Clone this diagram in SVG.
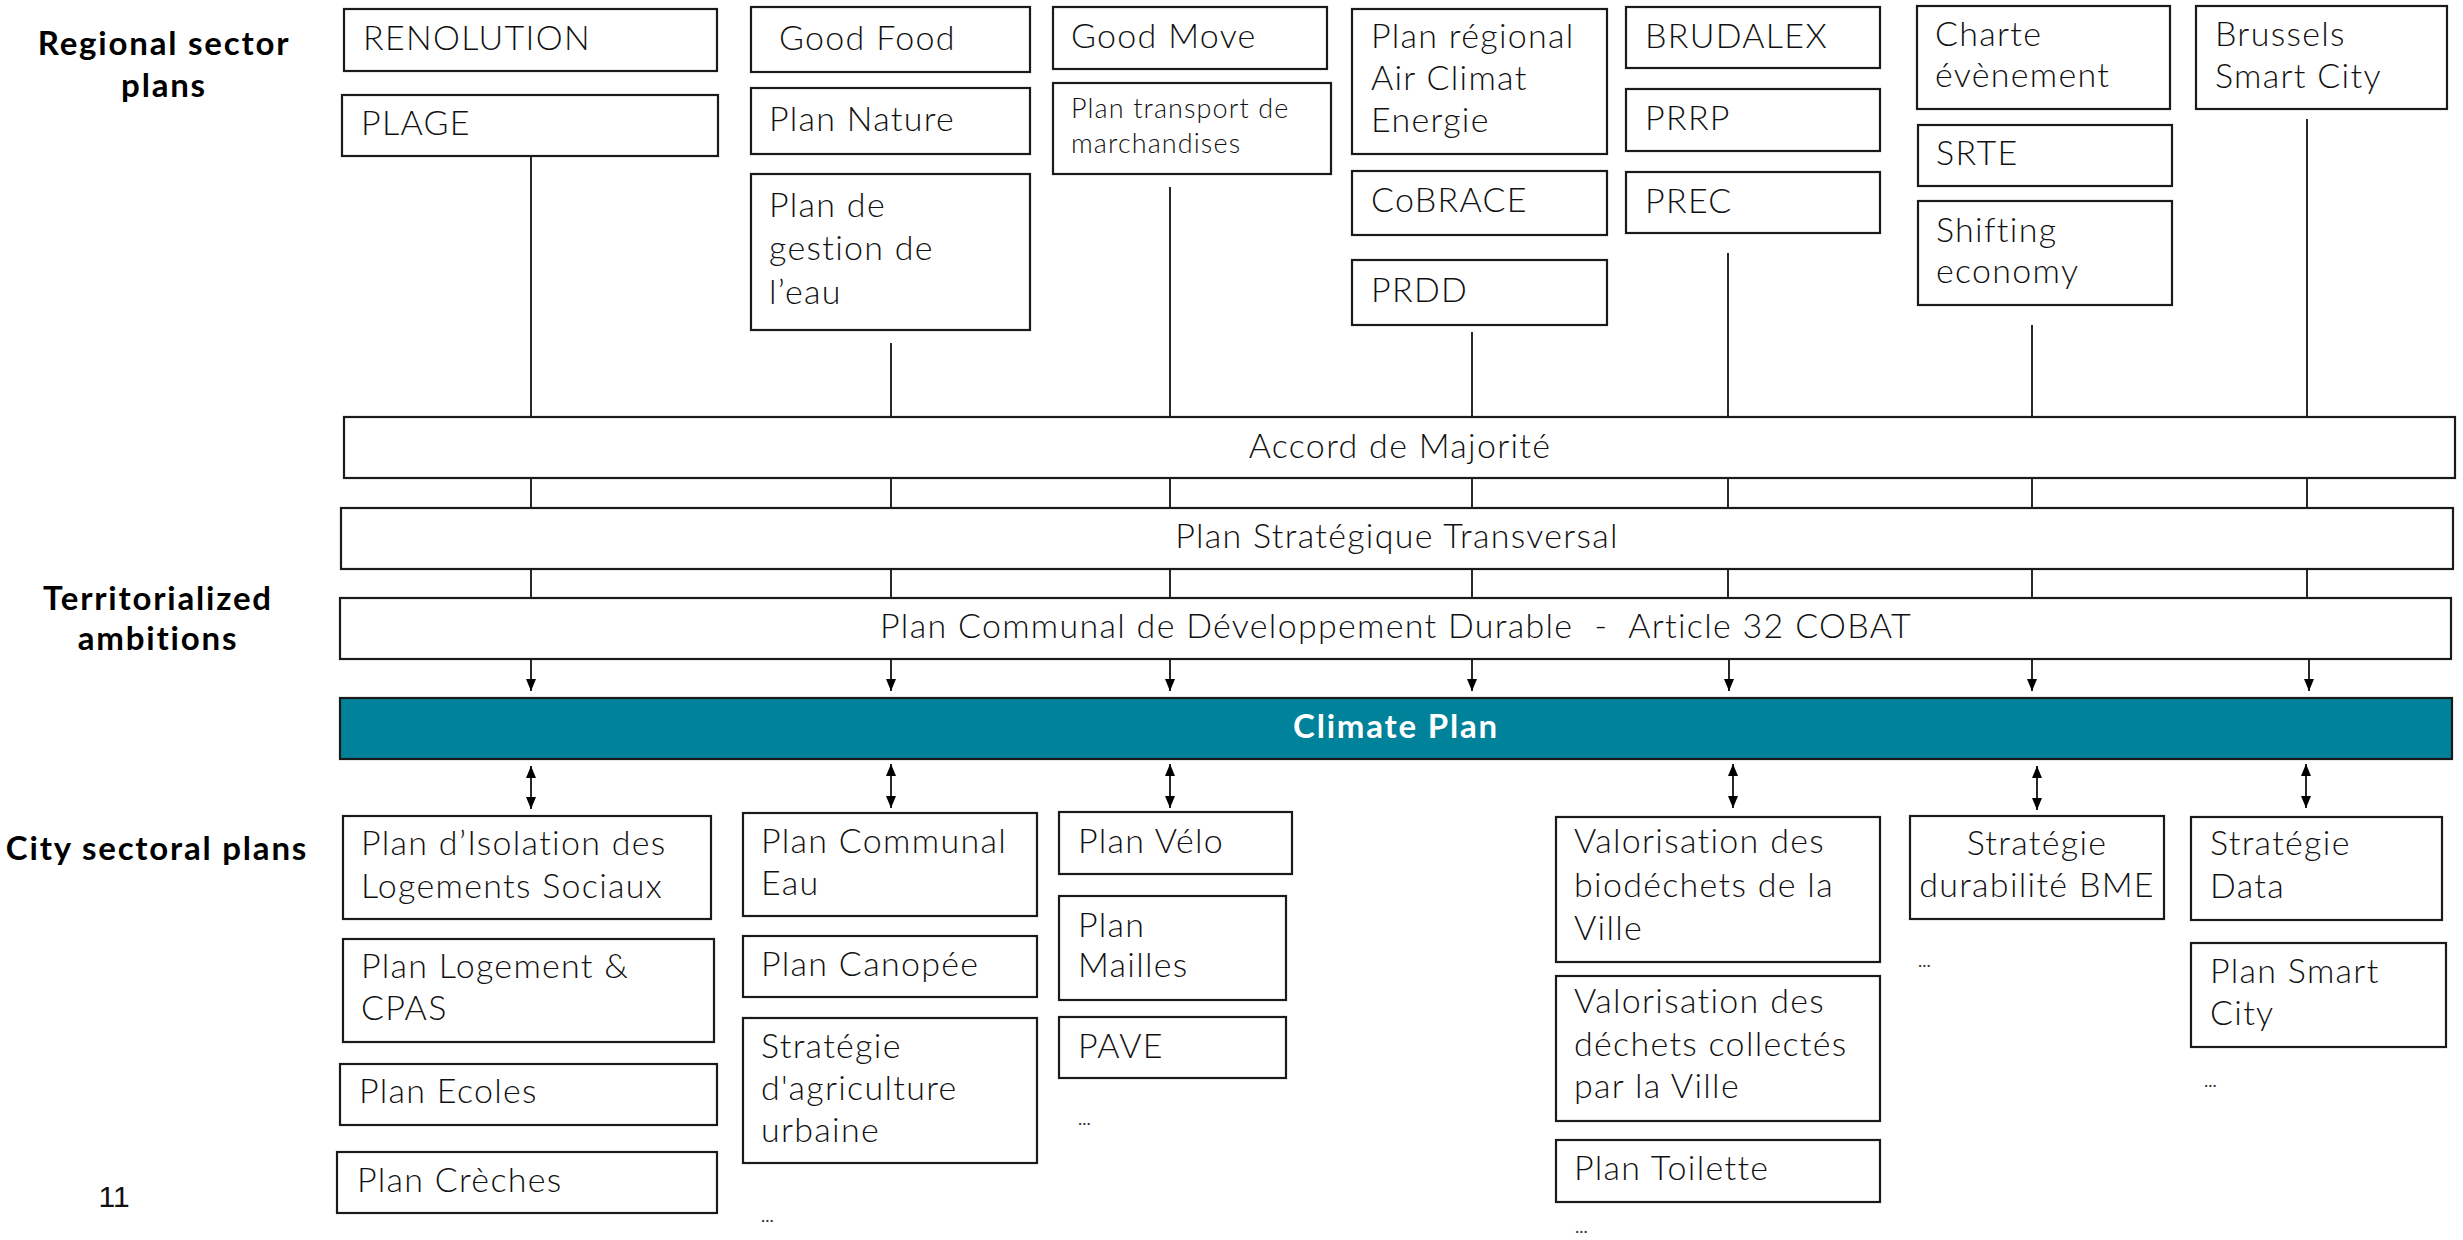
<svg xmlns="http://www.w3.org/2000/svg" width="2463" height="1240" viewBox="0 0 2463 1240">
<style>
.bx{fill:#fff;stroke:#1a1a1a;stroke-width:2.2}
.t{font-family:Lato,"Open Sans","Liberation Sans",sans-serif;font-weight:300;font-size:34px;letter-spacing:1.3px;fill:#111}
.ts{font-size:27px;letter-spacing:1.1px}
.lab{font-family:Lato,"Open Sans","Liberation Sans",sans-serif;font-weight:700;font-size:33px;letter-spacing:1.8px;fill:#000;text-anchor:middle}
.c{text-anchor:middle}
.dots{font-family:Lato,"Liberation Sans",sans-serif;font-size:18px;fill:#333}
.ln{stroke:#111;stroke-width:1.8;fill:none}
</style>
<defs>
<marker id="ah" viewBox="0 0 12 10" refX="12" refY="5" markerWidth="12" markerHeight="10" markerUnits="userSpaceOnUse" orient="auto-start-reverse"><path d="M0,0 L12,5 L0,10 z" fill="#000"/></marker>
</defs>
<rect width="2463" height="1240" fill="#fff"/>

<g id="labels">
<text class="lab" x="164" y="55">Regional sector</text>
<text class="lab" x="164" y="97">plans</text>
<text class="lab" x="158" y="610">Territorialized</text>
<text class="lab" x="158" y="650">ambitions</text>
<text class="lab" x="157" y="860">City sectoral plans</text>
<text x="114" y="1207" font-family="Liberation Sans, sans-serif" font-size="30" fill="#111" text-anchor="middle">11</text>
</g>

<g id="connectors">
<line class="ln" x1="531" y1="156" x2="531" y2="417"/>
<line class="ln" x1="891" y1="343" x2="891" y2="417"/>
<line class="ln" x1="1170" y1="187" x2="1170" y2="417"/>
<line class="ln" x1="1472" y1="332" x2="1472" y2="417"/>
<line class="ln" x1="1728" y1="253" x2="1728" y2="417"/>
<line class="ln" x1="2032" y1="325" x2="2032" y2="417"/>
<line class="ln" x1="2307" y1="119" x2="2307" y2="417"/>
<g id="c-accord-pst">
<line class="ln" x1="531" y1="478" x2="531" y2="508"/>
<line class="ln" x1="891" y1="478" x2="891" y2="508"/>
<line class="ln" x1="1170" y1="478" x2="1170" y2="508"/>
<line class="ln" x1="1472" y1="478" x2="1472" y2="508"/>
<line class="ln" x1="1728" y1="478" x2="1728" y2="508"/>
<line class="ln" x1="2032" y1="478" x2="2032" y2="508"/>
<line class="ln" x1="2307" y1="478" x2="2307" y2="508"/>
</g>
<g id="c-pst-pcdd">
<line class="ln" x1="531" y1="569" x2="531" y2="598"/>
<line class="ln" x1="891" y1="569" x2="891" y2="598"/>
<line class="ln" x1="1170" y1="569" x2="1170" y2="598"/>
<line class="ln" x1="1472" y1="569" x2="1472" y2="598"/>
<line class="ln" x1="1728" y1="569" x2="1728" y2="598"/>
<line class="ln" x1="2032" y1="569" x2="2032" y2="598"/>
<line class="ln" x1="2307" y1="569" x2="2307" y2="598"/>
</g>
<g id="c-pcdd-climate">
<line class="ln" x1="531" y1="659" x2="531" y2="691" marker-end="url(#ah)"/>
<line class="ln" x1="891" y1="659" x2="891" y2="691" marker-end="url(#ah)"/>
<line class="ln" x1="1170" y1="659" x2="1170" y2="691" marker-end="url(#ah)"/>
<line class="ln" x1="1472" y1="659" x2="1472" y2="691" marker-end="url(#ah)"/>
<line class="ln" x1="1729" y1="659" x2="1729" y2="691" marker-end="url(#ah)"/>
<line class="ln" x1="2032" y1="659" x2="2032" y2="691" marker-end="url(#ah)"/>
<line class="ln" x1="2309" y1="659" x2="2309" y2="691" marker-end="url(#ah)"/>
</g>
<g id="c-climate-city">
<line class="ln" x1="531" y1="766" x2="531" y2="809" marker-start="url(#ah)" marker-end="url(#ah)"/>
<line class="ln" x1="891" y1="764" x2="891" y2="808" marker-start="url(#ah)" marker-end="url(#ah)"/>
<line class="ln" x1="1170" y1="764" x2="1170" y2="808" marker-start="url(#ah)" marker-end="url(#ah)"/>
<line class="ln" x1="1733" y1="764" x2="1733" y2="808" marker-start="url(#ah)" marker-end="url(#ah)"/>
<line class="ln" x1="2037" y1="766" x2="2037" y2="810" marker-start="url(#ah)" marker-end="url(#ah)"/>
<line class="ln" x1="2306" y1="764" x2="2306" y2="808" marker-start="url(#ah)" marker-end="url(#ah)"/>
</g>
</g>

<g id="renolution"><rect class="bx" x="344" y="9" width="373" height="62"/><text class="t" x="363" y="50">RENOLUTION</text></g>
<g id="plage"><rect class="bx" x="342" y="95" width="376" height="61"/><text class="t" x="361" y="135">PLAGE</text></g>

<g id="good-food"><rect class="bx" x="751" y="7" width="279" height="65"/><text class="t" x="779" y="50">Good Food</text></g>
<g id="plan-nature"><rect class="bx" x="751" y="88" width="279" height="66"/><text class="t" x="769" y="131">Plan Nature</text></g>
<g id="plan-eau"><rect class="bx" x="751" y="174" width="279" height="156"/><text class="t" x="769" y="217">Plan de</text><text class="t" x="769" y="260">gestion de</text><text class="t" x="769" y="304">l’eau</text></g>

<g id="good-move"><rect class="bx" x="1053" y="7" width="274" height="62"/><text class="t" x="1071" y="48">Good Move</text></g>
<g id="plan-transport"><rect class="bx" x="1053" y="83" width="278" height="91"/><text class="t ts" x="1071" y="118">Plan transport de</text><text class="t ts" x="1071" y="153">marchandises</text></g>

<g id="prace"><rect class="bx" x="1352" y="9" width="255" height="145"/><text class="t" x="1371" y="48">Plan régional</text><text class="t" x="1371" y="90">Air Climat</text><text class="t" x="1371" y="132">Energie</text></g>
<g id="cobrace"><rect class="bx" x="1352" y="171" width="255" height="64"/><text class="t" x="1371" y="212">CoBRACE</text></g>
<g id="prdd"><rect class="bx" x="1352" y="260" width="255" height="65"/><text class="t" x="1371" y="302">PRDD</text></g>

<g id="brudalex"><rect class="bx" x="1626" y="7" width="254" height="61"/><text class="t" x="1645" y="48">BRUDALEX</text></g>
<g id="prrp"><rect class="bx" x="1626" y="89" width="254" height="62"/><text class="t" x="1645" y="130">PRRP</text></g>
<g id="prec"><rect class="bx" x="1626" y="172" width="254" height="61"/><text class="t" x="1645" y="213">PREC</text></g>

<g id="charte"><rect class="bx" x="1917" y="6" width="253" height="103"/><text class="t" x="1935" y="46">Charte</text><text class="t" x="1935" y="87">évènement</text></g>
<g id="srte"><rect class="bx" x="1918" y="125" width="254" height="61"/><text class="t" x="1936" y="165">SRTE</text></g>
<g id="shifting"><rect class="bx" x="1918" y="201" width="254" height="104"/><text class="t" x="1936" y="242">Shifting</text><text class="t" x="1936" y="283">economy</text></g>

<g id="bsc"><rect class="bx" x="2196" y="6" width="251" height="103"/><text class="t" x="2215" y="46">Brussels</text><text class="t" x="2215" y="88">Smart City</text></g>

<g id="accord"><rect class="bx" x="344" y="417" width="2111" height="61"/><text class="t c" x="1400" y="458">Accord de Majorité</text></g>
<g id="pst"><rect class="bx" x="341" y="508" width="2112" height="61"/><text class="t c" x="1397" y="548">Plan Stratégique Transversal</text></g>
<g id="pcdd"><rect class="bx" x="340" y="598" width="2111" height="61"/><text class="t c" x="1396" y="638" xml:space="preserve">Plan Communal de Développement Durable  -  Article 32 COBAT</text></g>
<g id="climate"><rect x="340" y="698" width="2112" height="61" fill="#00829b" stroke="#1a1a1a" stroke-width="2.2"/><text x="1396" y="738" font-family="Lato,'Open Sans','Liberation Sans',sans-serif" font-weight="700" font-size="33" letter-spacing="1.8" fill="#fff" text-anchor="middle">Climate Plan</text></g>

<g id="isolation"><rect class="bx" x="343" y="816" width="368" height="103"/><text class="t" x="361" y="855">Plan d’Isolation des</text><text class="t" x="361" y="898">Logements Sociaux</text></g>
<g id="logement"><rect class="bx" x="343" y="939" width="371" height="103"/><text class="t" x="361" y="978">Plan Logement &amp;</text><text class="t" x="361" y="1020">CPAS</text></g>
<g id="ecoles"><rect class="bx" x="340" y="1064" width="377" height="61"/><text class="t" x="359" y="1103">Plan Ecoles</text></g>
<g id="creches"><rect class="bx" x="337" y="1152" width="380" height="61"/><text class="t" x="357" y="1192">Plan Crèches</text></g>

<g id="communal-eau"><rect class="bx" x="743" y="813" width="294" height="103"/><text class="t" x="761" y="853">Plan Communal</text><text class="t" x="761" y="895">Eau</text></g>
<g id="canopee"><rect class="bx" x="743" y="936" width="294" height="61"/><text class="t" x="761" y="976">Plan Canopée</text></g>
<g id="agriculture"><rect class="bx" x="743" y="1018" width="294" height="145"/><text class="t" x="761" y="1058">Stratégie</text><text class="t" x="761" y="1100">d'agriculture</text><text class="t" x="761" y="1142">urbaine</text></g>
<text class="dots" x="761" y="1222">...</text>

<g id="velo"><rect class="bx" x="1059" y="812" width="233" height="62"/><text class="t" x="1078" y="853">Plan Vélo</text></g>
<g id="mailles"><rect class="bx" x="1059" y="896" width="227" height="104"/><text class="t" x="1078" y="937">Plan</text><text class="t" x="1078" y="977">Mailles</text></g>
<g id="pave"><rect class="bx" x="1059" y="1017" width="227" height="61"/><text class="t" x="1078" y="1058">PAVE</text></g>
<text class="dots" x="1078" y="1125">...</text>

<g id="biodechets"><rect class="bx" x="1556" y="817" width="324" height="145"/><text class="t" x="1574" y="853">Valorisation des</text><text class="t" x="1574" y="897">biodéchets de la</text><text class="t" x="1574" y="940">Ville</text></g>
<g id="dechets"><rect class="bx" x="1556" y="976" width="324" height="145"/><text class="t" x="1574" y="1013">Valorisation des</text><text class="t" x="1574" y="1056">déchets collectés</text><text class="t" x="1574" y="1098">par la Ville</text></g>
<g id="toilette"><rect class="bx" x="1556" y="1140" width="324" height="62"/><text class="t" x="1574" y="1180">Plan Toilette</text></g>
<text class="dots" x="1575" y="1233">...</text>

<g id="bme"><rect class="bx" x="1910" y="816" width="254" height="103"/><text class="t c" x="2037" y="855">Stratégie</text><text class="t c" x="2037" y="897">durabilité BME</text></g>
<text class="dots" x="1918" y="967">...</text>

<g id="data"><rect class="bx" x="2191" y="817" width="251" height="103"/><text class="t" x="2210" y="855">Stratégie</text><text class="t" x="2210" y="898">Data</text></g>
<g id="smart-city"><rect class="bx" x="2191" y="943" width="255" height="104"/><text class="t" x="2210" y="983">Plan Smart</text><text class="t" x="2210" y="1025">City</text></g>
<text class="dots" x="2204" y="1087">...</text>
</svg>
